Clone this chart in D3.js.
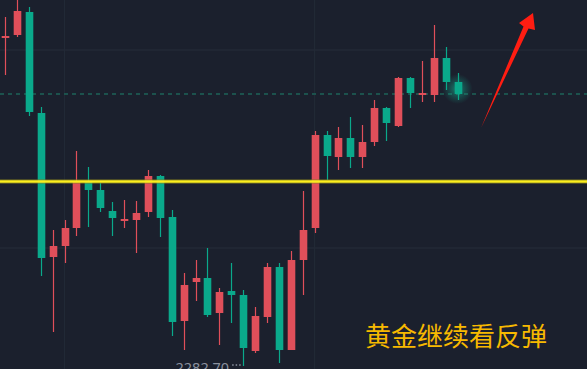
<!DOCTYPE html>
<html>
<head>
<meta charset="utf-8">
<script src="https://cdn.jsdelivr.net/npm/d3@7/dist/d3.min.js"></script>
<style>
  html, body { margin: 0; padding: 0; background: #1b202d; overflow: hidden; }
  svg { display: block; }
</style>
</head>
<body>
<svg id="chart" width="587" height="369"></svg>
<script>
// Gold candles (oldest to newest)
const opens  = [2315.55, 2315.8, 2318.1, 2308.0, 2293.6, 2294.7, 2296.5, 2301.1, 2300.3, 2298.2,
                2297.25, 2297.3, 2298.1, 2301.7, 2297.6, 2287.2, 2291.1, 2291.5, 2288.0, 2290.2,
                2289.8, 2284.2, 2287.6, 2292.6, 2284.3, 2293.3, 2296.5, 2305.8, 2303.6, 2305.5,
                2303.6, 2305.1, 2308.5, 2306.7, 2311.5, 2309.8, 2309.8, 2313.5, 2311.1];
const highs  = [2317.6, 2319.8, 2318.6, 2308.6, 2296.3, 2297.3, 2304.2, 2302.6, 2301.0, 2299.1,
                2299.3, 2299.2, 2302.3, 2301.8, 2298.3, 2292.0, 2293.3, 2294.5, 2290.5, 2293.0,
                2290.3, 2288.6, 2293.0, 2293.0, 2294.2, 2300.2, 2306.2, 2306.2, 2306.6, 2307.6,
                2306.8, 2309.3, 2308.6, 2311.6, 2311.6, 2313.2, 2316.8, 2314.6, 2312.0];
const lows   = [2311.8, 2315.6, 2307.7, 2291.7, 2286.1, 2293.0, 2295.7, 2296.6, 2298.1, 2295.7,
                2296.5, 2294.0, 2297.6, 2295.6, 2285.7, 2284.3, 2289.2, 2287.6, 2284.8, 2287.0,
                2282.7, 2284.0, 2287.0, 2283.0, 2284.3, 2289.8, 2296.0, 2301.3, 2302.3, 2302.5,
                2302.5, 2304.7, 2305.2, 2306.6, 2308.5, 2309.1, 2309.1, 2310.3, 2309.3];
const closes = [2315.65, 2318.2, 2308.1, 2293.5, 2294.7, 2296.5, 2301.1, 2300.3, 2298.5, 2297.5,
                2297.35, 2298.0, 2301.7, 2297.5, 2287.1, 2290.8, 2291.5, 2287.8, 2290.1, 2289.8,
                2284.5, 2287.7, 2292.6, 2284.3, 2293.3, 2296.3, 2305.8, 2303.7, 2305.5, 2303.6,
                2305.1, 2308.5, 2307.0, 2311.5, 2310.0, 2310.0, 2313.5, 2311.1, 2309.9];

// Horizontal grid prices and session-boundary candle indices
const gridPrices = [2294.5, 2314.3];
const sessionBreaks = [5, 26];

// Drawn levels
const supportLevel = 2301.15;
const lowLabel = "2282.70";
const caption = "黄金继续看反弹";

const W = 587, H = 369;
const n = opens.length;
const candles = d3.range(n).map(i => ({
  i, o: opens[i], h: highs[i], l: lows[i], c: closes[i]
}));

const x = d3.scaleLinear().domain([0, n - 1]).range([5, 457.5]);
const y = d3.scaleLinear().domain([2282.7, 2319.3]).range([366, 0]);
const bodyW = 7.6;

const UP = "#e04f5a", DOWN = "#0aa98b";
const svg = d3.select("#chart");

svg.append("rect").attr("width", W).attr("height", H).attr("fill", "#1b202d");

const defs = svg.append("defs");
const glow = defs.append("radialGradient").attr("id", "lastGlow");
glow.append("stop").attr("offset", "0%").attr("stop-color", "#16c7a2").attr("stop-opacity", 0.6);
glow.append("stop").attr("offset", "55%").attr("stop-color", "#12a98b").attr("stop-opacity", 0.28);
glow.append("stop").attr("offset", "100%").attr("stop-color", "#12a98b").attr("stop-opacity", 0);

// grid
svg.append("g").selectAll("line").data(gridPrices).join("line")
  .attr("x1", 0).attr("x2", W)
  .attr("y1", d => y(d)).attr("y2", d => y(d))
  .attr("stroke", "#262d3b").attr("stroke-width", 1.2);
svg.append("g").selectAll("line").data(sessionBreaks).join("line")
  .attr("x1", d => x(d)).attr("x2", d => x(d))
  .attr("y1", 0).attr("y2", H)
  .attr("stroke", "#232a37").attr("stroke-width", 1);

// last price line
const last = candles[n - 1];
svg.append("line")
  .attr("x1", 0).attr("x2", W)
  .attr("y1", y(last.c)).attr("y2", y(last.c))
  .attr("stroke", "#1c524d").attr("stroke-width", 2)
  .attr("stroke-dasharray", "4,4");

// glow behind the newest candle
svg.append("circle")
  .attr("cx", x(last.i)).attr("cy", y((last.o + last.c) / 2) + 1)
  .attr("r", 15).attr("fill", "url(#lastGlow)");

// candles
const g = svg.append("g");
const color = d => d.c >= d.o ? UP : DOWN;
g.selectAll("line.wick").data(candles).join("line")
  .attr("class", "wick")
  .attr("x1", d => Math.round(x(d.i)) + 0.5).attr("x2", d => Math.round(x(d.i)) + 0.5)
  .attr("y1", d => y(d.h)).attr("y2", d => y(d.l))
  .attr("stroke", color).attr("stroke-width", 1.2);
g.selectAll("rect.body").data(candles).join("rect")
  .attr("class", "body")
  .attr("x", d => Math.round(x(d.i)) + 0.5 - bodyW / 2)
  .attr("width", bodyW)
  .attr("y", d => {
    const top = y(Math.max(d.o, d.c)), bot = y(Math.min(d.o, d.c));
    return bot - top < 2 ? (top + bot) / 2 - 1 : top;
  })
  .attr("height", d => Math.max(2, y(Math.min(d.o, d.c)) - y(Math.max(d.o, d.c))))
  .attr("fill", color);

// support line
svg.append("line")
  .attr("x1", 0).attr("x2", W)
  .attr("y1", y(supportLevel)).attr("y2", y(supportLevel))
  .attr("stroke", "#8a8220").attr("stroke-opacity", 0.45).attr("stroke-width", 5);
svg.append("line")
  .attr("x1", 0).attr("x2", W)
  .attr("y1", y(supportLevel)).attr("y2", y(supportLevel))
  .attr("stroke", "#fbee1e").attr("stroke-width", 2.4);

// lowest price marker
const lowIdx = d3.minIndex(lows);
svg.append("text")
  .attr("x", x(lowIdx) - 14).attr("y", 373)
  .attr("text-anchor", "end")
  .attr("font-family", "'Noto Sans', 'DejaVu Sans', sans-serif")
  .attr("font-size", 14.5).attr("fill", "#8a909e")
  .text(lowLabel);
svg.append("line")
  .attr("x1", x(lowIdx) - 11).attr("x2", x(lowIdx) - 1)
  .attr("y1", y(lows[lowIdx]) - 1).attr("y2", y(lows[lowIdx]) - 1)
  .attr("stroke", "#8a909e").attr("stroke-width", 1.5)
  .attr("stroke-dasharray", "1.5,2");

// hand-drawn upward arrow
svg.append("path")
  .attr("d", "M481,128 L523.5,26.5 L519,23 L533,13 L535,30 L528.5,28.5 Z")
  .attr("fill", "#ff1d12");

// caption
svg.append("text")
  .attr("x", 365).attr("y", 346)
  .attr("font-family", "'Noto Sans CJK SC', sans-serif")
  .attr("font-size", 26)
  .attr("fill", "#f7b900")
  .text(caption);
</script>
</body>
</html>
